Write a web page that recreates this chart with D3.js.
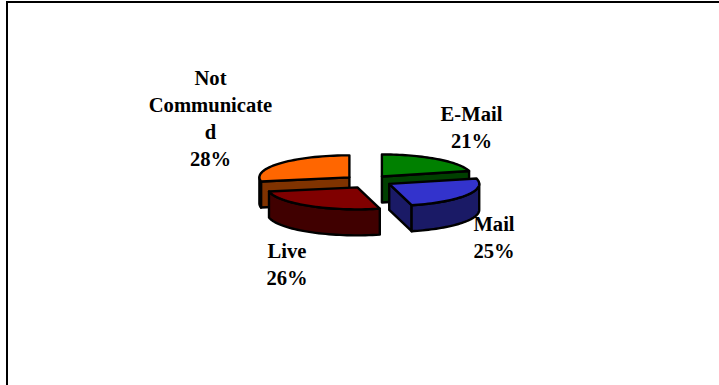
<!DOCTYPE html>
<html><head><meta charset="utf-8">
<script src="https://cdn.jsdelivr.net/npm/d3@7/dist/d3.min.js"></script>
<style>html,body{margin:0;padding:0;background:#fff}svg{display:block}</style>
</head><body><svg id="c" width="719" height="385"></svg>
<script>
const categories = ["E-Mail", "Mail", "Live", "Not Communicated"];
const values = [21, 25, 26, 28];
const labelLines = [["E-Mail","21%"],["Mail","25%"],["Live","26%"],["Not","Communicate","d","28%"]];
const topColors = ["#008000","#3333CC","#800000","#FF6600"];
const wallColors = ["#004000","#1A1A66","#400000","#803300"];
const labelAnchors = [[471.5,121],[494,231],[287,258],[210.5,85]];
const drawOrder = [3,0,2,1];
const nudgeX = [-0.5,1,2,-0.5];
const nudgeY = [0,0,1.5,0];

const W=719,H=385, cx=368, cy=181, rx=90, ry=22, depth=26, explode=23.5;
const svg=d3.select("#c");
svg.append("rect").attr("x",6).attr("y",1.5).attr("width",2).attr("height",H).attr("fill","#000");
svg.append("rect").attr("x",6).attr("y",1).attr("width",W).attr("height",2).attr("fill","#000");

const slices=d3.pie().sort(null)(values);
const sx=d3.scaleLinear().domain([-1,1]).range([-rx,rx]);
const sy=d3.scaleLinear().domain([-1,1]).range([-ry,ry]);
const pt=(a,o,dz=0)=>[o[0]+sx(Math.sin(a)), o[1]+sy(-Math.cos(a))+dz];
const curve=(a0,a1,o,dz)=>d3.range(0,41).map(i=>pt(a0+(a1-a0)*i/40,o,dz));
const poly=p=>d3.line()(p)+"Z";

drawOrder.forEach(i=>{
  const s=slices[i], mid=(s.startAngle+s.endAngle)/2;
  const o=[cx+nudgeX[i]+sx(explode/rx*Math.sin(mid)), cy+nudgeY[i]+sy(-explode/rx*Math.cos(mid))];
  const g=svg.append("g").attr("stroke","#000").attr("stroke-width",2.4).attr("stroke-linejoin","round");
  [[s.startAngle,Math.sin(s.startAngle)<-1e-6],[s.endAngle,Math.sin(s.endAngle)>1e-6]].forEach(([a,vis])=>{
    if(!vis) return;
    const e=pt(a,o);
    g.append("path").attr("d",poly([o,e,[e[0],e[1]+depth],[o[0],o[1]+depth]])).attr("fill",wallColors[i]);
  });
  const a0=Math.max(s.startAngle,Math.PI/2), a1=Math.min(s.endAngle,Math.PI*1.5);
  if(a1>a0){
    g.append("path").attr("d",poly(curve(a0,a1,o,0).concat(curve(a1,a0,o,depth)))).attr("fill",wallColors[i]);
  }
  g.append("path").attr("d",poly([o].concat(curve(s.startAngle,s.endAngle,o,0)))).attr("fill",topColors[i]);
});

labelLines.forEach((lines,i)=>{
  const t=svg.append("text").attr("text-anchor","middle")
    .attr("font-family","'Liberation Serif','Times New Roman',serif").attr("font-weight","bold")
    .attr("font-size",20.6).attr("fill","#000");
  lines.forEach((l,j)=>t.append("tspan").attr("x",labelAnchors[i][0]).attr("y",labelAnchors[i][1]+j*27).text(l));
});
</script></body></html>
